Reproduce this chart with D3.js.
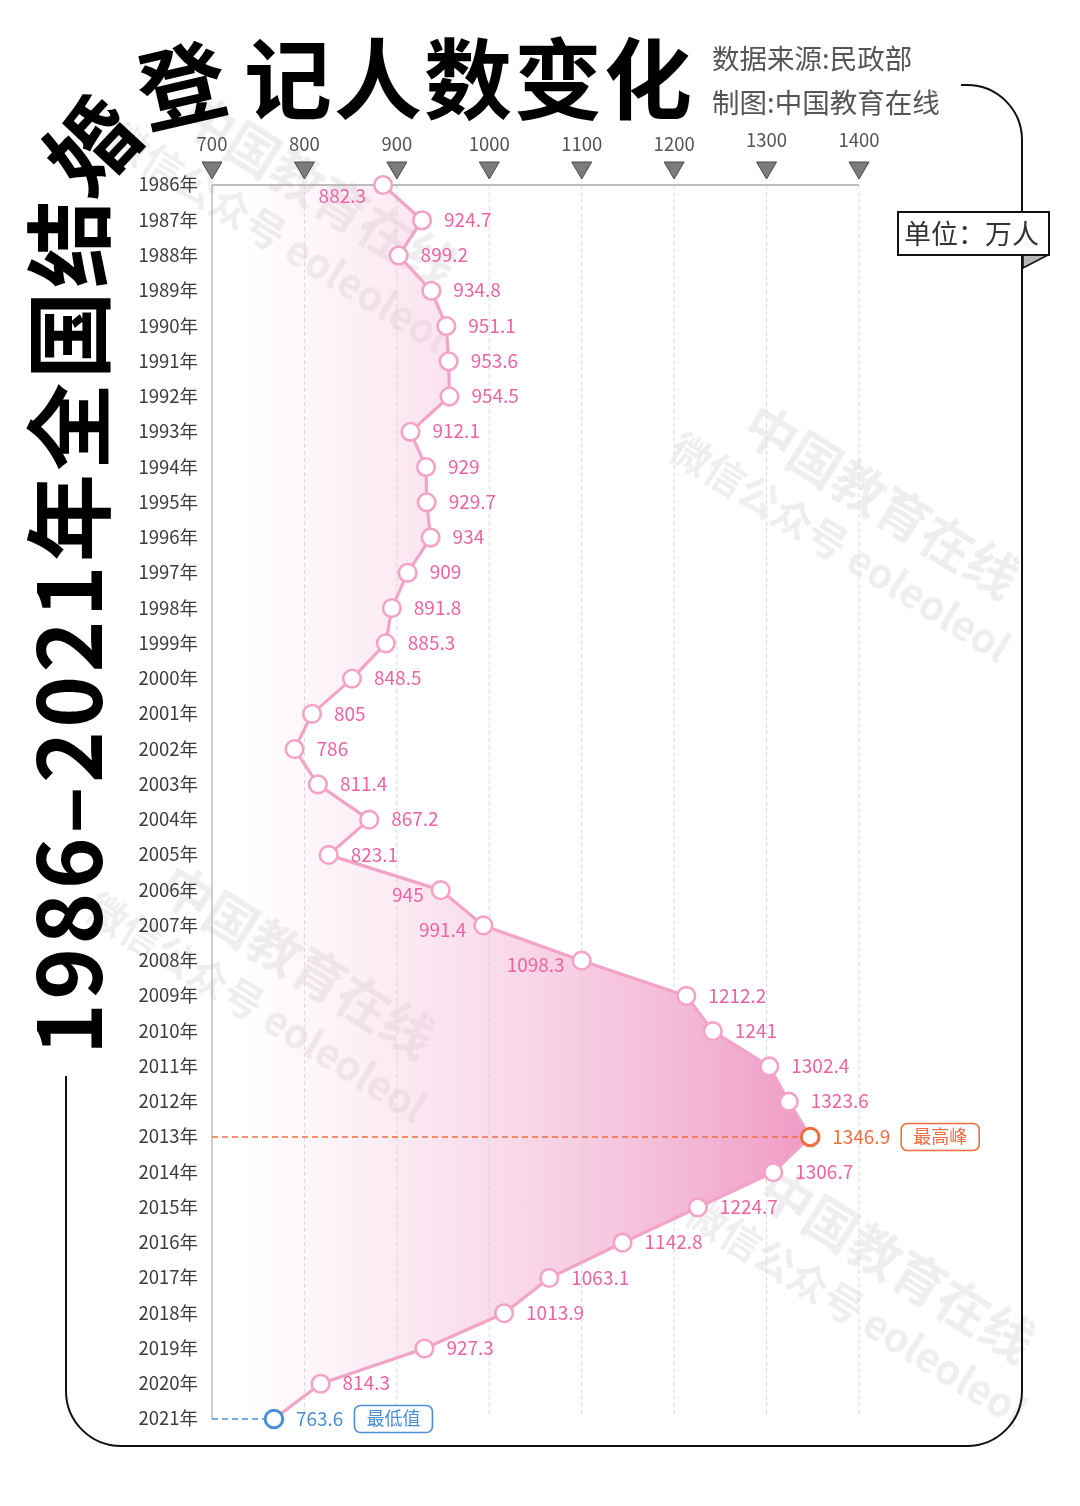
<!DOCTYPE html>
<html><head><meta charset="utf-8">
<script src="https://cdn.jsdelivr.net/npm/d3@7"></script>
<style>body{margin:0;background:#fff}svg{display:block}</style>
</head><body><svg id="c" width="1080" height="1506"></svg>
<script>
const years = ["1986","1987","1988","1989","1990","1991","1992","1993","1994","1995","1996","1997","1998","1999","2000","2001","2002","2003","2004","2005","2006","2007","2008","2009","2010","2011","2012","2013","2014","2015","2016","2017","2018","2019","2020","2021"];
const values = [882.3,924.7,899.2,934.8,951.1,953.6,954.5,912.1,929,929.7,934,909,891.8,885.3,848.5,805,786,811.4,867.2,823.1,945,991.4,1098.3,1212.2,1241,1302.4,1323.6,1346.9,1306.7,1224.7,1142.8,1063.1,1013.9,927.3,814.3,763.6];
const xTicks = [700,800,900,1000,1100,1200,1300,1400];
const labelLeftYears = ["1986","2006","2007","2008"];
const titleVertical = "1986–2021年全国结";
const titleCorner = "婚";
const titleTurn = "登";
const titleHorizontal = "记人数变化";
const sourceLines = ["数据来源:民政部","制图:中国教育在线"];
const unitText = "单位：万人";
const maxBadge = "最高峰", minBadge = "最低值";
const wmLine1 = "中国教育在线", wmLine2 = "微信公众号 eoleoleol";

const FONT = "'Noto Sans CJK SC','Noto Sans',sans-serif";
const PINK_LINE = "#F3A3C7", PINK_TEXT = "#EC64A3", ORANGE = "#F26D3D", BLUE = "#4A8ED6";

const data = years.map((y,i)=>({year:y, value:values[i]}));
const svg = d3.select("#c").style("font-family", FONT);

// axis scale (ticks) and mark scale (points sit slightly right of axis origin, as in the source)
const x = d3.scaleLinear().domain([700,1400]).range([212,859]);
const xp = d3.scaleLinear().domain([700,1400]).range([215.5,859]);
const y = d3.scalePoint().domain(years).range([185,1419]);

// watermarks (behind)
const wm = svg.append("g").attr("fill","#000").attr("opacity",0.07);
[[200,88],[762,398],[178,858],[778,1162]].forEach(([wx,wy])=>{
  const g = wm.append("g").attr("transform",`translate(${wx},${wy}) rotate(32)`);
  g.append("text").attr("x",0).attr("y",44).attr("font-size",52).attr("font-weight",700).text(wmLine1);
  g.append("text").attr("x",-50).attr("y",100).attr("font-size",40).attr("font-weight",700).text(wmLine2);
});

// gradient
const defs = svg.append("defs");
const grad = defs.append("linearGradient").attr("id","ag").attr("gradientUnits","userSpaceOnUse")
  .attr("x1",240).attr("x2",820).attr("y1",0).attr("y2",0);
grad.append("stop").attr("offset",0).attr("stop-color","#F7C6DD").attr("stop-opacity",0);
grad.append("stop").attr("offset",0.45).attr("stop-color","#F4BCD7").attr("stop-opacity",0.55);
grad.append("stop").attr("offset",1).attr("stop-color","#EE98C4").attr("stop-opacity",1);

// grid
svg.append("g").selectAll("line").data(xTicks.slice(1)).join("line")
  .attr("x1",d=>x(d)).attr("x2",d=>x(d)).attr("y1",y("1986")).attr("y2",y("2021")-4)
  .attr("stroke","#d9d9d9").attr("stroke-width",1).attr("stroke-dasharray","4,3");

// area
const area = d3.area().y(d=>y(d.year)).x0(x(700)).x1(d=>xp(d.value));
svg.append("path").datum(data).attr("d",area).attr("fill","url(#ag)");

// axes lines
svg.append("line").attr("x1",x(700)).attr("x2",x(1400)).attr("y1",y("1986")).attr("y2",y("1986")).attr("stroke","#a8a8a8").attr("stroke-width",1.5);
svg.append("line").attr("x1",x(700)).attr("x2",x(700)).attr("y1",y("1986")).attr("y2",y("2021")).attr("stroke","#bdbdbd").attr("stroke-width",1.5);

// top ticks
const tk = svg.append("g").selectAll("g").data(xTicks).join("g").attr("transform",d=>`translate(${x(d)},0)`);
tk.append("text").attr("y",d=>d>=1300?147:151).attr("text-anchor","middle").attr("font-size",18.5).attr("fill","#555").text(d=>d);
tk.append("path").attr("d","M-10,162 L10,162 L0,179 Z").attr("fill","#7b7b7b").attr("stroke","#4a4a4a").attr("stroke-width",1);

// year labels
svg.append("g").selectAll("text").data(years).join("text")
  .attr("x",198).attr("y",d=>y(d)).attr("dy","0.35em").attr("text-anchor","end")
  .attr("font-size",18.5).attr("fill","#3c3c3c").text(d=>d+"年");

// highlight lines
const maxD = data.reduce((a,b)=>b.value>a.value?b:a);
const minD = data.reduce((a,b)=>b.value<a.value?b:a);
svg.append("line").attr("x1",x(700)).attr("x2",xp(maxD.value)-9).attr("y1",y(maxD.year)).attr("y2",y(maxD.year))
  .attr("stroke",ORANGE).attr("stroke-width",1.6).attr("stroke-dasharray","6,4");
svg.append("line").attr("x1",x(700)).attr("x2",xp(minD.value)-9).attr("y1",y(minD.year)).attr("y2",y(minD.year))
  .attr("stroke",BLUE).attr("stroke-width",1.6).attr("stroke-dasharray","6,4");

// line
const line = d3.line().x(d=>xp(d.value)).y(d=>y(d.year));
svg.append("path").datum(data).attr("d",line).attr("fill","none").attr("stroke",PINK_LINE).attr("stroke-width",3.2).attr("stroke-linejoin","round");

// points
const col = d=> d===maxD?ORANGE:(d===minD?BLUE:PINK_LINE);
svg.append("g").selectAll("circle").data(data).join("circle")
  .attr("cx",d=>xp(d.value)).attr("cy",d=>y(d.year)).attr("r",8.8)
  .attr("fill","#fff").attr("stroke",col).attr("stroke-width",d=>(d===maxD||d===minD)?3:2.6);

// value labels
const lbl = svg.append("g").selectAll("text").data(data).join("text")
  .attr("x",d=> labelLeftYears.includes(d.year) ? xp(d.value)-17 : xp(d.value)+22)
  .attr("y",d=> y(d.year) + (d.year==="1986"?11: labelLeftYears.includes(d.year)?5:0))
  .attr("dy","0.35em")
  .attr("text-anchor",d=>labelLeftYears.includes(d.year)?"end":"start")
  .attr("font-size",19).attr("fill",d=>d===maxD?ORANGE:(d===minD?BLUE:PINK_TEXT))
  .text(d=>d.value);

// badges
function badge(d, txt, color){
  const node = lbl.filter(e=>e===d).node();
  const bx = xp(d.value)+22+node.getComputedTextLength()+11;
  const by = y(d.year);
  svg.append("rect").attr("x",bx).attr("y",by-13.5).attr("width",78).attr("height",27).attr("rx",6)
    .attr("fill","#fff").attr("stroke",color).attr("stroke-width",1.6);
  svg.append("text").attr("x",bx+39).attr("y",by).attr("dy","0.35em").attr("text-anchor","middle")
    .attr("font-size",18).attr("fill",color).text(txt);
}
badge(maxD, maxBadge, ORANGE);
badge(minD, minBadge, BLUE);

// frame
svg.append("path").attr("d","M961,85 H967 A55,55 0 0 1 1022,140 V1391 A55,55 0 0 1 967,1446 H121 A55,55 0 0 1 66,1391 V1076")
  .attr("fill","none").attr("stroke","#111").attr("stroke-width",2);

// unit box
svg.append("polygon").attr("points","1023,255 1048,255 1023,268").attr("fill","#b5b5b5").attr("stroke","#111").attr("stroke-width",1.5);
svg.append("rect").attr("x",898).attr("y",212).attr("width",151).attr("height",43).attr("fill","#fff").attr("stroke","#111").attr("stroke-width",2);
svg.append("text").attr("x",904).attr("y",234).attr("dy","0.36em").attr("font-size",27).attr("fill","#333").text(unitText);

// source text
svg.append("g").selectAll("text").data(sourceLines).join("text")
  .attr("x",712).attr("y",(d,i)=>69+i*44).attr("font-size",27.5).attr("fill","#555").text(d=>d);

// title
const tg = svg.append("g").attr("fill","#000").attr("font-weight",700);
tg.append("text").attr("transform","translate(102,1055) rotate(-90)").attr("font-size",88)
  .attr("textLength",855).attr("lengthAdjust","spacing").text(titleVertical);
tg.append("text").attr("transform","translate(93,146) rotate(-47)").attr("font-size",88)
  .attr("text-anchor","middle").attr("dy","0.36em").text(titleCorner);
tg.append("text").attr("transform","translate(182,87) rotate(-13)").attr("font-size",88)
  .attr("text-anchor","middle").attr("dy","0.36em").text(titleTurn);
tg.append("text").attr("x",244).attr("y",112).attr("font-size",88)
  .attr("textLength",448).attr("lengthAdjust","spacing").text(titleHorizontal);
</script>
</body></html>
